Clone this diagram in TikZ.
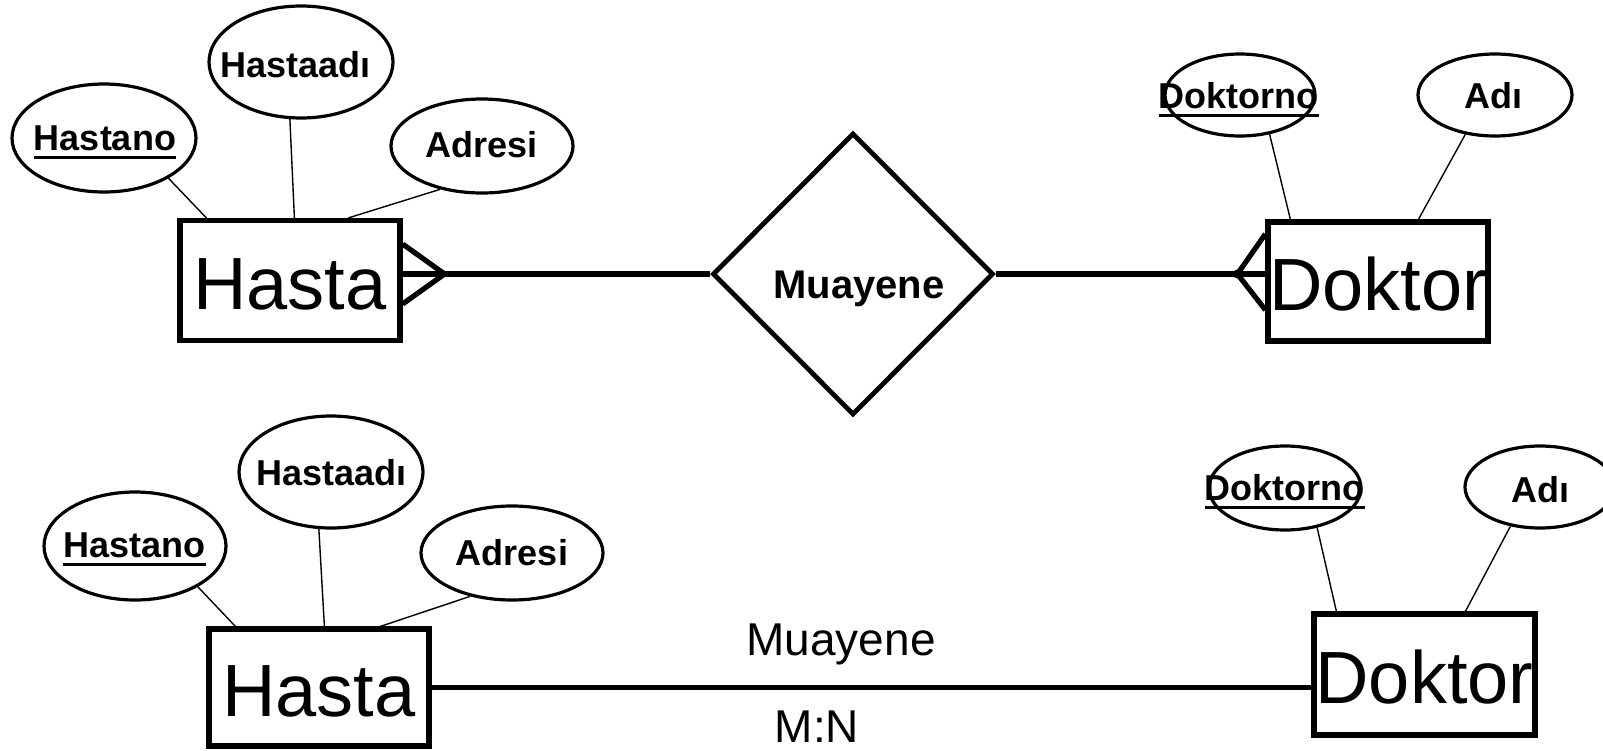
\documentclass[tikz,border=0pt]{standalone}
\usepackage{fontspec}
\setmainfont{Liberation Sans}
\usetikzlibrary{shapes.geometric,calc}

% key attribute: text with a thick rule under it
\newsavebox\keybox
\newcommand{\keyattr}[1]{\sbox\keybox{#1}\rlap{\rule[-8.5pt]{\wd\keybox}{3pt}}\usebox\keybox}

\tikzset{
  entity/.style={draw, line width=5.2pt, inner sep=0pt, minimum width=220pt,
    minimum height=120pt, text height=58pt, text depth=0pt,
    font=\fontsize{74}{74}\selectfont},
  attr/.style={ellipse, draw, line width=3.2pt, inner sep=0pt},
  attrtext/.style={inner sep=0pt, anchor=base, font=\bfseries\fontsize{36}{36}\selectfont},
  rel/.style={diamond, draw, line width=4.8pt, inner sep=0pt,
    minimum width=281pt, minimum height=282pt},
  reltext/.style={inner sep=0pt, anchor=base, font=\bfseries\fontsize{40}{40}\selectfont},
  plaintext/.style={inner sep=0pt, anchor=base, font=\fontsize{46}{46}\selectfont},
  link/.style={line width=5.2pt},
  prop/.style={line width=1.4pt},
}

\begin{document}
\begin{tikzpicture}[x=1pt, y=-1pt]
\useasboundingbox (0,0) rectangle (1603,750);

% ---------- upper diagram: relationship drawn as a diamond ----------
\node[entity] (hasta) at (290,280.5) {Hasta};
\node[entity, minimum height=119pt] (doktor) at (1378,281.5) {Doktor};
\node[rel] (muayene) at (853,274) {};
\node[reltext] (muayeneT) at (859,298) {Muayene};

\node[attr, minimum width=184pt, minimum height=108pt] (hno) at (104,138) {};
\node[attrtext] (hnoT) at (105,150) {\keyattr{Hastano}};
\node[attr, minimum width=184pt, minimum height=112pt] (had) at (301,62) {};
\node[attrtext] (hadT) at (295.5,77) {Hastaadı};
\node[attr, minimum width=182pt, minimum height=94pt] (adr) at (482,146) {};
\node[attrtext] (adrT) at (481.5,157) {Adresi};
\node[attr, minimum width=150pt, minimum height=82pt] (dno) at (1240,95) {};
\node[attrtext] (dnoT) at (1238.5,108) {\keyattr{Doktorno}};
\node[attr, minimum width=154pt, minimum height=82pt] (dad) at (1495,95) {};
\node[attrtext] (dadT) at (1493.5,108) {Adı};

\draw[prop] (hno.-32.5) -- ($(hasta.north west)+(29,0)$);
\draw[prop] (had.-101) -- ($(hasta.north west)+(117,0)$);
\draw[prop] (adr.-134) -- ($(hasta.north west)+(171,0)$);
\draw[prop] (dno.-53) -- ($(doktor.north west)+(25,0)$);
\draw[prop] (dad.-127) -- ($(doktor.north west)+(153,0)$);

% Hasta side: line with crow's foot
\coordinate (cfH) at ($(muayene.west -| hasta.east)+(42,0)$);
\draw[link] (muayene.west -| hasta.east) -- (muayene.west);
\draw[link] ($(hasta.east |- muayene.west)+(0,-30)$) -- (cfH)
  -- ($(hasta.east |- muayene.west)+(0,30)$);

% Doktor side: line with crow's foot
\coordinate (cfD) at ($(muayene.east -| doktor.west)+(-28,0)$);
\draw[link] (muayene.east) -- (muayene.east -| doktor.west);
\draw[link] ($(doktor.west |- muayene.east)+(0,-40)$) -- (cfD)
  -- ($(doktor.west |- muayene.east)+(0,36)$);
\fill (cfD) circle (4.5pt);

% ---------- lower diagram: relationship written on the line ----------
\node[entity, minimum height=117pt] (hasta2) at (319,687.5) {Hasta};
\node[entity, minimum width=221pt, minimum height=121pt] (doktor2) at (1424.5,674.5) {Doktor};

\node[attr, minimum width=182pt, minimum height=108pt] (hno2) at (135,546) {};
\node[attrtext] (hno2T) at (134.5,557) {\keyattr{Hastano}};
\node[attr, minimum width=184pt, minimum height=112pt] (had2) at (331,472) {};
\node[attrtext] (had2T) at (331.5,485) {Hastaadı};
\node[attr, minimum width=182pt, minimum height=94pt] (adr2) at (512,553) {};
\node[attrtext] (adr2T) at (512,565) {Adresi};
\node[attr, minimum width=152pt, minimum height=84pt] (dno2) at (1285,488) {};
\node[attrtext] (dno2T) at (1284.5,500) {\keyattr{Doktorno}};
\node[attr, minimum width=150pt, minimum height=82pt] (dad2) at (1540,487) {};
\node[attrtext] (dad2T) at (1540,502) {Adı};

\draw[prop] (hno2.-33) -- ($(hasta2.north west)+(29,0)$);
\draw[prop] (had2.-102) -- ($(hasta2.north west)+(118,0)$);
\draw[prop] (adr2.-134) -- ($(hasta2.north west)+(174,0)$);
\draw[prop] (dno2.-51.5) -- ($(doktor2.north west)+(25,0)$);
\draw[prop] (dad2.-127) -- ($(doktor2.north west)+(154,0)$);

\draw[link] (hasta2.east) -- (hasta2.east -| doktor2.west);
\node[plaintext] (relname) at (841,655) {Muayene};
\node[plaintext] (card) at (817,742) {M:N};
\end{tikzpicture}
\end{document}
